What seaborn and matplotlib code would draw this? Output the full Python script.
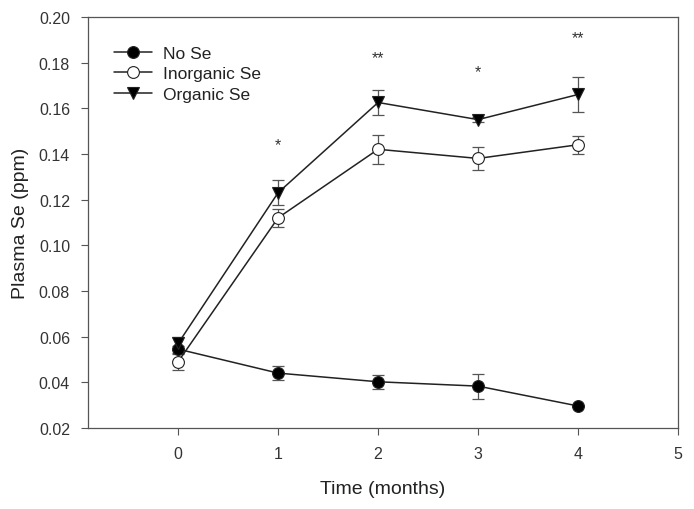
import pandas as pd
import matplotlib
matplotlib.use("Agg")
import matplotlib.pyplot as plt
import seaborn as sns

months = [0, 1, 2, 3, 4]

no_se = [0.0545, 0.044, 0.0402, 0.0383, 0.0296]
no_se_err = [0.0015, 0.003, 0.003, 0.0055, 0.0]

inorganic_se = [0.049, 0.112, 0.142, 0.138, 0.144]
inorganic_se_err = [0.0035, 0.004, 0.0063, 0.005, 0.004]

organic_se = [0.057, 0.123, 0.1625, 0.155, 0.166]
organic_se_err = [0.003, 0.0055, 0.0055, 0.001, 0.0075]

star_months = [1, 2, 3, 4]
star_y = [0.144, 0.182, 0.176, 0.191]
star_labels = ["*", "**", "*", "**"]

sns.set_style("ticks")
plt.rcParams['font.family'] = ['Liberation Sans', 'DejaVu Sans']

groups = [
    ("No Se", no_se, no_se_err, "o", "black"),
    ("Inorganic Se", inorganic_se, inorganic_se_err, "o", "white"),
    ("Organic Se", organic_se, organic_se_err, "v", "black"),
]

fig = plt.figure(figsize=(6.94, 5.10), dpi=100)
ax = fig.add_axes([0.127, 0.159, 0.85, 0.806])

for name, vals, errs, mk, face in groups:
    df = pd.DataFrame({'Time': months, 'Se': vals})
    ax.errorbar(months, vals, yerr=errs, fmt='none', ecolor='#555555',
                elinewidth=0.9, capsize=4, capthick=0.9, zorder=2)
    sns.lineplot(data=df, x='Time', y='Se', ax=ax, color='#222222', linewidth=1.1,
                 marker=mk, markersize=8.5, markerfacecolor=face,
                 markeredgecolor='#222222', markeredgewidth=0.8, label=name, zorder=3)

# significance marks
for m, y, s in zip(star_months, star_y, star_labels):
    ax.text(m, y, s, ha='center', va='center', fontsize=11.5, color='#333333')

ax.set_xlim(-0.9, 5)
ax.set_ylim(0.02, 0.20)
ax.set_xticks([0, 1, 2, 3, 4, 5])
ax.set_yticks([0.02, 0.04, 0.06, 0.08, 0.10, 0.12, 0.14, 0.16, 0.18, 0.20])
ax.set_yticklabels([f"{v:.2f}" for v in ax.get_yticks()])
ax.tick_params(axis='both', direction='out', length=5, width=0.8, colors='#555555',
               labelcolor='#333333', labelsize=11.5, pad=8, top=False, right=False)
for sp in ax.spines.values():
    sp.set_color('#555555')
    sp.set_linewidth(0.9)

ax.set_xlabel('Time (months)', fontsize=14, color='#222222', labelpad=14)
ax.set_ylabel('Plasma Se (ppm)', fontsize=14, color='#222222', labelpad=7)

leg = ax.legend(loc='upper left', bbox_to_anchor=(0.044, 0.93), frameon=False,
                borderaxespad=0, borderpad=0, fontsize=12.5, handlelength=2.2,
                labelspacing=0.32, handletextpad=0.6)
for t in leg.get_texts():
    t.set_color('#222222')

fig.savefig("out.png", dpi=100)
